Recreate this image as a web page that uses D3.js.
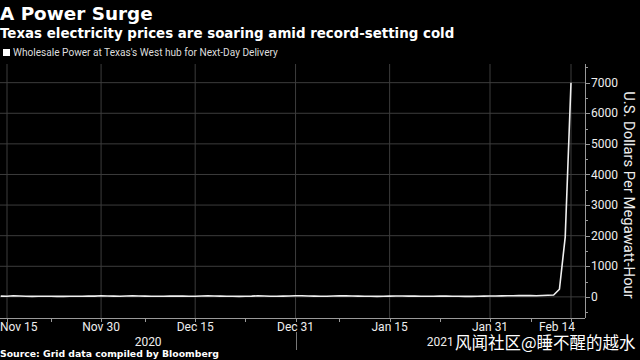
<!DOCTYPE html>
<html><head><meta charset="utf-8">
<script src="https://cdn.jsdelivr.net/npm/d3@7"></script>
<style>
html,body{margin:0;padding:0;background:#000;}
svg{display:block;}
</style></head>
<body>
<svg id="c" width="640" height="360"></svg>
<script>
const title = "A Power Surge";
const subtitle = "Texas electricity prices are soaring amid record-setting cold";
const seriesName = "Wholesale Power at Texas's West hub for Next-Day Delivery";
const yAxisTitle = "U.S. Dollars Per Megawatt-Hour";
const source = "Source: Grid data compiled by Bloomberg";
const watermark = "风闻社区@睡不醒的越水";
const startDate = "2020-11-14";
// daily values, Nov 14 2020 .. Feb 14 2021
const valuesNov = [25,22,35,28,20,18,20,22,20,18,17,19,20,22,25,24,35];
const valuesDec = [30,25,22,28,35,30,24,22,20,22,25,28,26,22,20,30,32,28,25,22,20,18,22,25,35,28,22,20,25,30,38];
const valuesJan = [35,28,25,22,20,30,35,32,28,25,22,20,18,22,25,28,30,26,24,22,20,22,25,24,22,20,18,16,20,24,28];
const valuesFeb = [30,32,35,38,42,45,40,35,45,55,60,250,1950,7000];
const xTickDates = ["2020-11-15","2020-11-30","2020-12-15","2020-12-31","2021-01-15","2021-01-31","2021-02-14"];
const xTickLabels = ["Nov 15","Nov 30","Dec 15","Dec 31","Jan 15","Jan 31","Feb 14"];
const xMinorDates = ["2020-11-22","2020-12-07","2020-12-23","2021-01-07","2021-01-23","2021-02-07"];
const yTicks = [0,1000,2000,3000,4000,5000,6000,7000];
const yearLabels = ["2020","2021"];

const parse = d3.utcParse("%Y-%m-%d");
const allValues = valuesNov.concat(valuesDec, valuesJan, valuesFeb);
const t0 = parse(startDate);
const data = allValues.map((v,i)=>({date:d3.utcDay.offset(t0,i), value:v}));

const svg = d3.select("#c");
const L = 0, R = 585, T = 64, B = 318;

const x = d3.scaleUtc()
  .domain([parse("2020-11-15"), parse("2021-01-31"), parse("2021-02-14")])
  .range([7, 490, 571]);
const y = d3.scaleLinear().domain([-690, 7610]).range([B, T]);

const font = "Roboto, 'Open Sans', sans-serif";
const boldFont = "'DejaVu Sans', Verdana, sans-serif";

// title
svg.append("text").attr("x",0).attr("y",20).attr("fill","#fff")
  .attr("font-family",boldFont).attr("font-weight","bold").attr("font-size",18.4).text(title);
svg.append("text").attr("x",0).attr("y",38).attr("fill","#fff")
  .attr("font-family",boldFont).attr("font-weight","bold").attr("font-size",13.4).text(subtitle);
// legend
svg.append("rect").attr("x",3).attr("y",49).attr("width",7).attr("height",7).attr("fill","#fff");
svg.append("text").attr("x",13).attr("y",56).attr("fill","#ddd")
  .attr("font-family",font).attr("font-size",10.1).text(seriesName);

// gridlines
const g = svg.append("g");
g.selectAll("line.h").data(yTicks).join("line")
  .attr("x1",L).attr("x2",R).attr("y1",d=>y(d)).attr("y2",d=>y(d))
  .attr("stroke","#3c3c3c").attr("stroke-width",1);
g.selectAll("line.v").data(xTickDates.map(parse)).join("line")
  .attr("x1",d=>x(d)).attr("x2",d=>x(d)).attr("y1",T).attr("y2",B)
  .attr("stroke","#3c3c3c").attr("stroke-width",1);

// x axis line
svg.append("line").attr("x1",L).attr("x2",R).attr("y1",B+0.5).attr("y2",B+0.5)
  .attr("stroke","#999").attr("stroke-width",1);
// x minor ticks
svg.selectAll("line.xm").data(xMinorDates.map(parse)).join("line")
  .attr("x1",d=>Math.round(x(d))+0.5).attr("x2",d=>Math.round(x(d))+0.5).attr("y1",B).attr("y2",B+4)
  .attr("stroke","#999");
svg.selectAll("line.xM").data(xTickDates.map(parse)).join("line")
  .attr("x1",d=>Math.round(x(d))+0.5).attr("x2",d=>Math.round(x(d))+0.5).attr("y1",B).attr("y2",B+4)
  .attr("stroke","#999");
// year separator at Dec 31
svg.append("line").attr("x1",Math.round(x(parse("2020-12-31")))+0.5).attr("x2",Math.round(x(parse("2020-12-31")))+0.5)
  .attr("y1",B+14).attr("y2",B+32).attr("stroke","#777");

// x tick labels
svg.selectAll("text.xl").data(xTickDates).join("text")
  .attr("x",(d,i)=>{const p=x(parse(d)); if(i===0) return 0; if(i===xTickDates.length-1) return Math.min(p, R-28); return p;})
  .attr("text-anchor",(d,i)=> i===0 ? "start" : "middle")
  .attr("y",331).attr("fill","#eee").attr("font-family",font).attr("font-size",12)
  .text((d,i)=>xTickLabels[i]);
// year labels
const yearCenters = [(x(data[0].date)+x(parse("2020-12-31")))/2, (x(parse("2020-12-31"))+R)/2];
svg.selectAll("text.yr").data(yearLabels).join("text")
  .attr("x",(d,i)=>yearCenters[i]).attr("y",346).attr("text-anchor","middle")
  .attr("fill","#eee").attr("font-family",font).attr("font-size",12).text(d=>d);

// y axis on right
svg.append("line").attr("x1",R+0.5).attr("x2",R+0.5).attr("y1",T).attr("y2",B)
  .attr("stroke","#999");
const yMinor = d3.range(-500, 7600, 500).filter(v=>v%1000!==0);
svg.selectAll("line.ym").data(yMinor).join("line")
  .attr("x1",R).attr("x2",R+3).attr("y1",d=>Math.round(y(d))+0.5).attr("y2",d=>Math.round(y(d))+0.5)
  .attr("stroke","#999");
svg.selectAll("line.yM").data(yTicks).join("line")
  .attr("x1",R).attr("x2",R+5).attr("y1",d=>Math.round(y(d))+0.5).attr("y2",d=>Math.round(y(d))+0.5)
  .attr("stroke","#999");
svg.selectAll("text.yl").data(yTicks).join("text")
  .attr("x",R+6).attr("y",d=>y(d)).attr("dy","0.35em")
  .attr("fill","#eee").attr("font-family",font).attr("font-size",12).text(d=>d);
svg.append("text").attr("transform",`translate(624,195) rotate(90)`)
  .attr("text-anchor","middle").attr("fill","#eee").attr("font-family",font).attr("font-size",14.8)
  .text(yAxisTitle);

// line
const line = d3.line().x(d=>x(d.date)).y(d=>y(d.value));
svg.append("path").datum(data).attr("d",line).attr("fill","none")
  .attr("stroke","#f0f0f0").attr("stroke-width",1.6).attr("stroke-linejoin","round");

// source
svg.append("text").attr("x",0).attr("y",357).attr("fill","#fff")
  .attr("font-family",boldFont).attr("font-weight","bold").attr("font-size",9.3).text(source);
// watermark
svg.append("text").attr("x",455).attr("y",349).attr("fill","#fff")
  .attr("font-family","'Noto Sans CJK SC', sans-serif").attr("font-size",16.5).text(watermark);
</script>
</body></html>
